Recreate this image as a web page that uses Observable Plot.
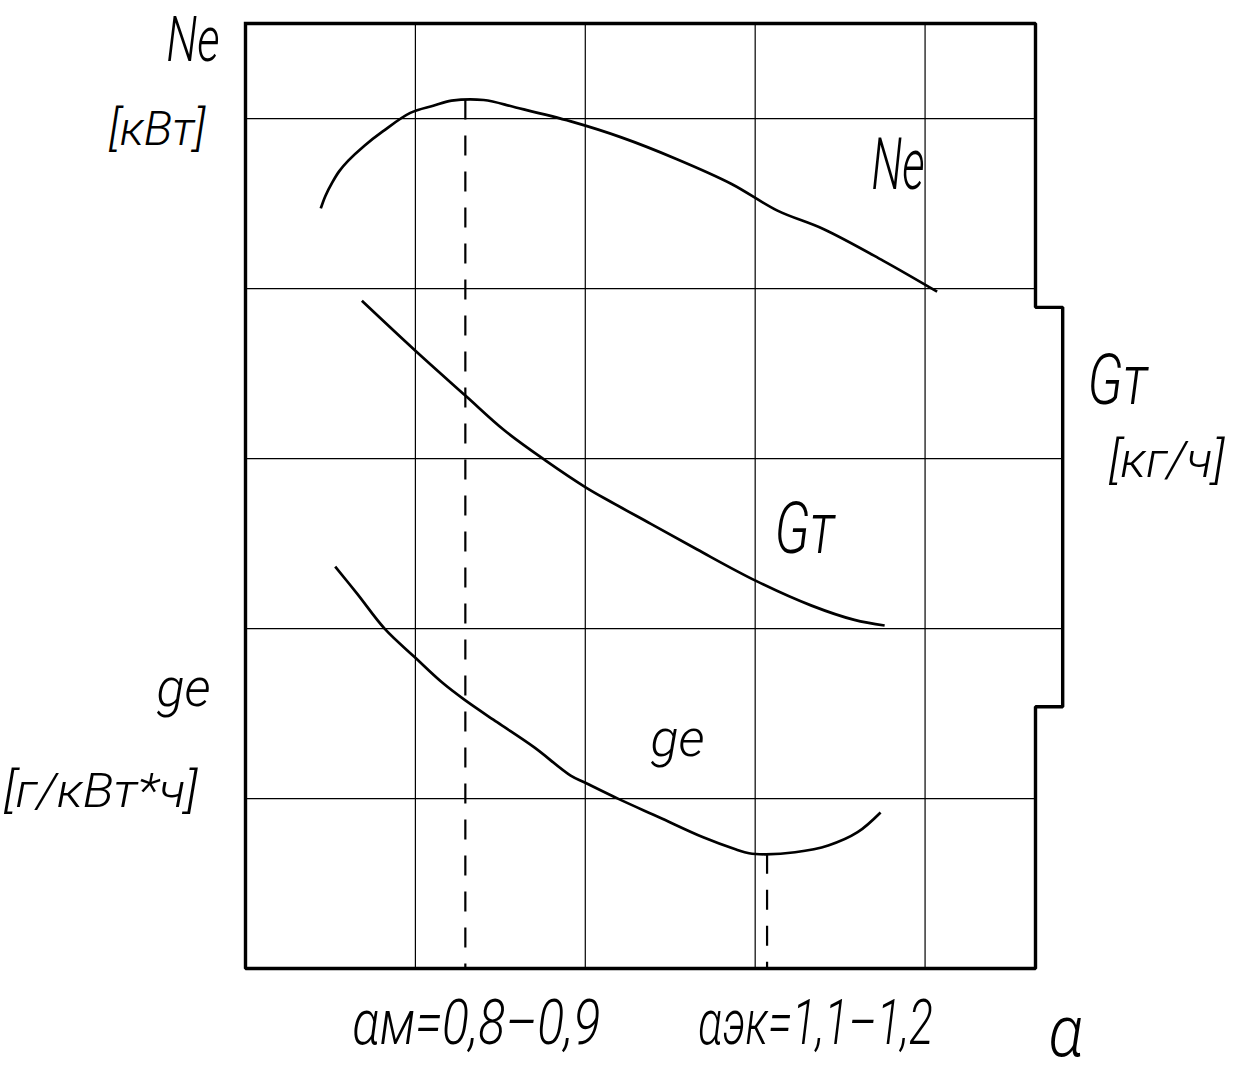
<!DOCTYPE html>
<html>
<head>
<meta charset="utf-8">
<script src="https://cdn.jsdelivr.net/npm/d3@7"></script>
<script src="https://cdn.jsdelivr.net/npm/@observablehq/plot@0.6"></script>
<style>
  html, body { margin: 0; padding: 0; background: #fff; overflow: hidden; }
</style>
</head>
<body>
<div id="chart"></div>
<script>
// ---- data (grid units: one grid cell = 1) ----
const neX = [0.443, 0.471, 0.511, 0.551, 0.605, 0.700, 0.808, 0.970, 1.105, 1.213, 1.402, 1.591, 1.915, 2.212, 2.536, 2.861, 3.131, 3.401, 3.752, 4.071];
const neY = [4.472, 4.547, 4.625, 4.690, 4.753, 4.841, 4.925, 5.034, 5.076, 5.106, 5.110, 5.066, 4.984, 4.890, 4.763, 4.616, 4.459, 4.351, 4.165, 3.982];

const gmX = [0.685, 1.000, 1.294, 1.525, 1.767, 2.002, 2.155, 2.386, 2.659, 3.002, 3.332, 3.584, 3.762];
const gmY = [3.929, 3.635, 3.371, 3.165, 2.988, 2.831, 2.743, 2.616, 2.465, 2.282, 2.135, 2.051, 2.018];

const geX = [0.528, 0.658, 0.820, 1.000, 1.156, 1.288, 1.481, 1.698, 1.914, 1.994, 2.195, 2.434, 2.694, 2.888, 2.964, 3.062, 3.235, 3.430, 3.603, 3.738];
const geY = [2.365, 2.204, 1.998, 1.828, 1.684, 1.582, 1.449, 1.302, 1.135, 1.096, 0.998, 0.890, 0.772, 0.700, 0.678, 0.672, 0.684, 0.724, 0.802, 0.918];

const xGrid = [1, 2, 3, 4];
const yGrid = [1, 2, 3, 4, 5];
const xMax = 4.65;
const yMax = 5.56;

// right-hand Gт axis bracket
const gmAxisX = 4.81;
const gmAxisRange = [1.54, 3.89];

// characteristic α values (dashed lines) and their labels
const alphaTicks = [1.294, 3.07];
const alphaLabels = ["αм=0,8–0,9", "αэк=1,1–1,2"];

// axis and curve label texts
const axisLabels = ["Ne", "[кВт]", "ge", "[г/кВт*ч]", "Gт", "[кг/ч]", "α"];
const curveLabels = ["Ne", "Gт", "ge"];

// ---- build tables ----
const toRows = (xs, ys) => xs.map((x, i) => ({x, y: ys[i]}));
const ne = toRows(neX, neY);
const gm = toRows(gmX, gmY);
const ge = toRows(geX, geY);

const outline = [
  [0, yMax], [xMax, yMax], [xMax, gmAxisRange[1]], [gmAxisX, gmAxisRange[1]],
  [gmAxisX, gmAxisRange[0]], [xMax, gmAxisRange[0]], [xMax, 0], [0, 0], [0, yMax]
];

const font = {fontFamily: "Roboto, 'DejaVu Sans', sans-serif", fontStyle: "italic", fontWeight: 300,
              fill: "black", textAnchor: "start", lineAnchor: "bottom"};

const lbl = (text, size, anchor, dx, dy) =>
  Plot.text([text], {text: d => d, frameAnchor: anchor, dx, dy, fontSize: size, ...font});

const curveStyle = {x: "x", y: "y", stroke: "black", strokeWidth: 2.7, curve: "catmull-rom",
                    strokeLinejoin: "round", strokeLinecap: "butt"};

const chart = Plot.plot({
  width: 1233,
  height: 1075,
  marginLeft: 245,
  marginRight: 198,
  marginTop: 23,
  marginBottom: 107,
  x: {domain: [0, xMax], axis: null},
  y: {domain: [0, yMax], axis: null},
  style: {background: "white"},
  marks: [
    // grid
    Plot.ruleX(xGrid, {x: d => d, y1: 0, y2: yMax, stroke: "black", strokeWidth: 1.2}),
    Plot.ruleY(yGrid, {y: d => d, x1: 0,
      x2: d => (d > gmAxisRange[0] && d < gmAxisRange[1]) ? gmAxisX : xMax,
      stroke: "black", strokeWidth: 1.2}),
    // dashed projection lines
    Plot.ruleX([alphaTicks[0]], {x: d => d, y1: d3.max(neY), y2: 0, stroke: "black",
      strokeWidth: 2.2, strokeDasharray: "20,16"}),
    Plot.ruleX([alphaTicks[1]], {x: d => d, y1: d3.min(geY), y2: 0, stroke: "black",
      strokeWidth: 2.2, strokeDasharray: "20,16"}),
    // frame with bracket
    Plot.line(outline, {x: d => d[0], y: d => d[1], stroke: "black", strokeWidth: 3.4,
      strokeLinejoin: "miter", strokeLinecap: "square"}),
    // curves
    Plot.line(ne, curveStyle),
    Plot.line(gm, curveStyle),
    Plot.line(ge, curveStyle),
    // axis labels (left)
    lbl(axisLabels[0], 62, "top-left", -79, 37),
    lbl(axisLabels[1], 48, "top-left", -137, 121),
    lbl(axisLabels[2], 54, "top-left", -89, 682),
    lbl(axisLabels[3], 48, "top-left", -242, 783),
    // axis labels (right)
    lbl(axisLabels[4], 70, "top-left", 842, 380),
    lbl(axisLabels[5], 50, "top-left", 863, 453),
    lbl(axisLabels[6], 72, "top-left", 803, 1032),
    // curve labels
    lbl(curveLabels[0], 72, "top-left", 626, 165),
    lbl(curveLabels[1], 72, "top-left", 529, 529),
    lbl(curveLabels[2], 52, "top-left", 405, 732),
    // α labels under the dashed lines
    Plot.text([alphaTicks[0]], {x: d => d, text: () => alphaLabels[0], frameAnchor: "bottom",
      dx: -113, dy: 75, fontSize: 63, ...font}),
    Plot.text([alphaTicks[1]], {x: d => d, text: () => alphaLabels[1], frameAnchor: "bottom",
      dx: -69, dy: 75, fontSize: 63, ...font})
  ]
});

// squeeze labels to the narrow drafting-font widths of the original
const widths = new Map([
  ["Ne", 53], ["[кВт]", 97], ["ge", 54], ["[г/кВт*ч]", 194], ["Gт", 60],
  ["[кг/ч]", 116], ["α", 35], ["αм=0,8–0,9", 248], ["αэк=1,1–1,2", 235]
]);
d3.select(chart).selectAll("text").each(function() {
  const t = this.textContent;
  if (widths.has(t)) {
    this.setAttribute("textLength", widths.get(t));
    this.setAttribute("lengthAdjust", "spacingAndGlyphs");
  }
});

document.getElementById("chart").appendChild(chart);
</script>
</body>
</html>
